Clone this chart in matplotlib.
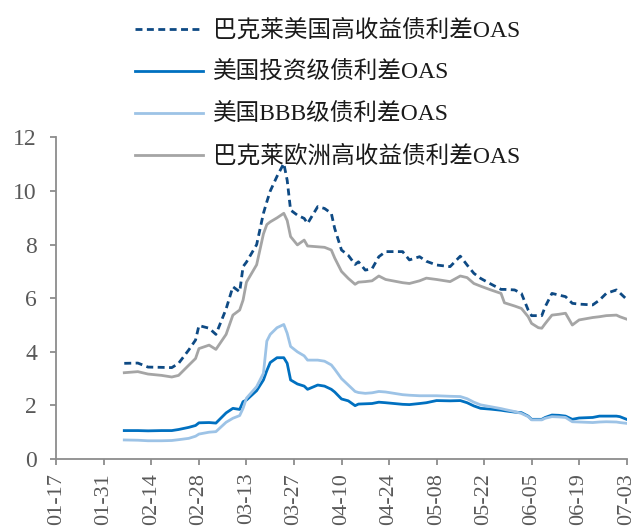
import pandas as pd
import matplotlib
matplotlib.use('Agg')
from matplotlib import pyplot as plt
import matplotlib.dates as mdates

plt.rcParams['font.family'] = ['Liberation Serif', 'Noto Sans CJK SC', 'DejaVu Sans']

# OAS spreads (%), 2020
dates = [
    '02-06', '02-10', '02-13', '02-17', '02-20', '02-22', '02-25', '02-27', '02-28',
    '03-02', '03-04', '03-07', '03-09', '03-11', '03-12', '03-13', '03-16', '03-18',
    '03-19', '03-20', '03-22', '03-24', '03-25', '03-26', '03-28', '03-30', '03-31',
    '04-03', '04-05', '04-07', '04-08', '04-10', '04-12', '04-14', '04-15', '04-17',
    '04-19', '04-21', '04-23', '04-28', '04-30', '05-03', '05-05', '05-08', '05-12',
    '05-15', '05-17', '05-19', '05-21', '05-24', '05-27', '05-28', '05-31', '06-02',
    '06-04', '06-05', '06-07', '06-08', '06-09', '06-11', '06-13', '06-15', '06-17',
    '06-19', '06-23', '06-25', '06-27', '06-30', '07-01', '07-03',
]
us_hy = [
    3.57, 3.58, 3.43, 3.42, 3.41, 3.57, 4.07, 4.44, 4.98,
    4.88, 4.65, 5.60, 6.43, 6.24, 7.18, 7.35, 8.00, 9.17,
    9.60, 10.00, 10.55, 11.03, 10.40, 9.29, 9.10, 8.98, 8.79,
    9.42, 9.35, 9.17, 8.60, 7.80, 7.60, 7.26, 7.36, 7.05,
    7.10, 7.55, 7.74, 7.74, 7.43, 7.55, 7.38, 7.24, 7.18,
    7.57, 7.24, 6.93, 6.74, 6.53, 6.33, 6.33, 6.31, 6.18,
    5.56, 5.35, 5.35, 5.35, 5.68, 6.18, 6.12, 6.06, 5.81,
    5.78, 5.75, 5.93, 6.18, 6.31, 6.20, 5.96,
]
us_ig = [
    1.06, 1.06, 1.05, 1.06, 1.06, 1.10, 1.18, 1.25, 1.35,
    1.36, 1.34, 1.72, 1.89, 1.85, 2.14, 2.20, 2.55, 2.95,
    3.30, 3.60, 3.78, 3.78, 3.57, 2.95, 2.80, 2.72, 2.60,
    2.76, 2.72, 2.60, 2.50, 2.24, 2.17, 1.99, 2.05, 2.06,
    2.07, 2.12, 2.10, 2.04, 2.03, 2.07, 2.10, 2.18, 2.17,
    2.18, 2.10, 1.98, 1.89, 1.86, 1.82, 1.80, 1.75, 1.73,
    1.60, 1.48, 1.48, 1.48, 1.55, 1.64, 1.63, 1.60, 1.48,
    1.53, 1.55, 1.60, 1.60, 1.60, 1.58, 1.48,
]
us_bbb = [
    0.71, 0.70, 0.68, 0.68, 0.69, 0.72, 0.77, 0.85, 0.93,
    1.00, 1.02, 1.37, 1.52, 1.62, 1.89, 2.27, 2.70, 3.20,
    4.40, 4.65, 4.90, 5.02, 4.69, 4.20, 4.00, 3.85, 3.69,
    3.69, 3.65, 3.51, 3.35, 3.00, 2.76, 2.52, 2.48, 2.45,
    2.47, 2.52, 2.50, 2.40, 2.38, 2.36, 2.36, 2.36, 2.34,
    2.33, 2.25, 2.12, 2.02, 1.95, 1.88, 1.85, 1.77, 1.70,
    1.58, 1.46, 1.46, 1.46, 1.52, 1.58, 1.57, 1.55, 1.39,
    1.38, 1.36, 1.38, 1.39, 1.38, 1.36, 1.33,
]
eu_hy = [
    3.22, 3.26, 3.17, 3.12, 3.06, 3.12, 3.50, 3.75, 4.12,
    4.25, 4.09, 4.65, 5.37, 5.56, 5.93, 6.60, 7.25, 8.40,
    8.75, 8.85, 9.00, 9.17, 8.90, 8.30, 7.99, 8.17, 7.95,
    7.92, 7.90, 7.80, 7.50, 7.00, 6.74, 6.52, 6.60, 6.62,
    6.65, 6.83, 6.70, 6.58, 6.55, 6.65, 6.75, 6.70, 6.62,
    6.83, 6.77, 6.55, 6.45, 6.31, 6.18, 5.83, 5.71, 5.62,
    5.31, 5.06, 4.90, 4.88, 5.05, 5.37, 5.40, 5.44, 5.00,
    5.19, 5.28, 5.31, 5.35, 5.37, 5.31, 5.22,
]
labels = ['巴克莱美国高收益债利差OAS', '美国投资级债利差OAS',
          '美国BBB级债利差OAS', '巴克莱欧洲高收益债利差OAS']

x = pd.to_datetime(['2020-' + d for d in dates])

fig = plt.figure(figsize=(6.35, 5.3), dpi=100)
ax = fig.add_axes([0.0888, 0.134, 0.898, 0.6066])

ax.plot(x, us_hy, color='#0e4a84', lw=2.0, ls=(0, (2.5, 1.6)), label=labels[0])
ax.plot(x, us_ig, color='#0070c0', lw=2.0, label=labels[1])
ax.plot(x, us_bbb, color='#9dc3e6', lw=2.0, label=labels[2])
ax.plot(x, eu_hy, color='#a5a5a5', lw=2.0, label=labels[3])

ax.set_ylim(0, 12)
ax.set_yticks(range(0, 13, 2))
ax.set_xlim(pd.Timestamp('2020-01-17'), pd.Timestamp('2020-07-03'))
ax.set_xticks(pd.date_range('2020-01-17', '2020-07-03', freq='14D'))
ax.xaxis.set_major_formatter(mdates.DateFormatter('%m-%d'))

for s in ['top', 'right']:
    ax.spines[s].set_visible(False)
for s in ['left', 'bottom']:
    ax.spines[s].set_color('#8c8c8c')
    ax.spines[s].set_linewidth(1.3)
ax.tick_params(axis='both', colors='#8c8c8c', labelcolor='#595959',
               length=4, width=1.3)
ax.tick_params(axis='y', labelsize=17, pad=10)
ax.tick_params(axis='x', labelsize=16, labelrotation=90, pad=6)

leg = fig.legend(loc='upper left', bbox_to_anchor=(0.197, 0.981), frameon=False,
                 fontsize=17, handlelength=2.9, handletextpad=0.42,
                 labelspacing=0.84, borderaxespad=0)
for t in leg.get_texts():
    t.set_color('#1a1a1a')

fig.savefig('out.png', dpi=100)
